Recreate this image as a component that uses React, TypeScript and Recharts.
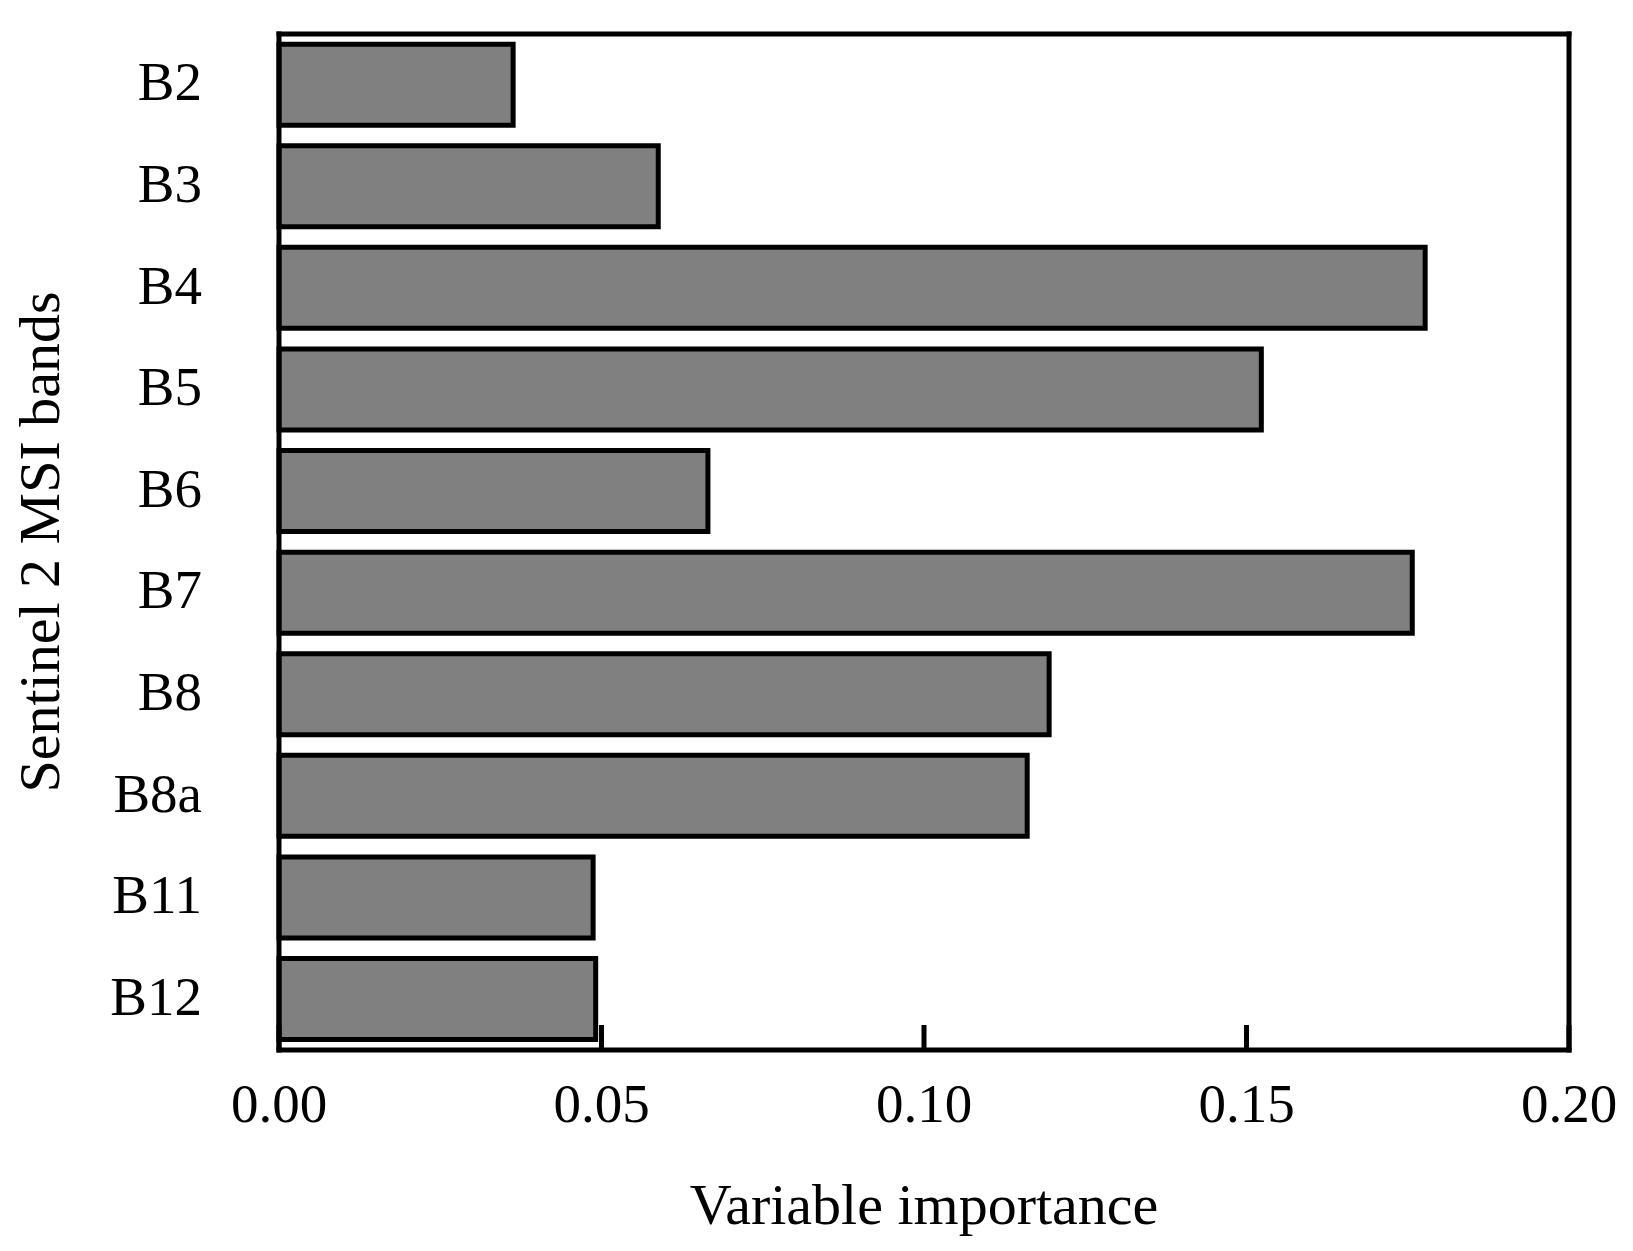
import { BarChart, Bar, XAxis, YAxis, CartesianGrid } from 'recharts';

const bands = ['B2', 'B3', 'B4', 'B5', 'B6', 'B7', 'B8', 'B8a', 'B11', 'B12'];
const importance = [0.0363, 0.0588, 0.1777, 0.1523, 0.0665, 0.1757, 0.1194, 0.116, 0.0487, 0.0491];
const xTicks = [0, 0.05, 0.1, 0.15, 0.2];

const data = bands.map((band, i) => ({ band, value: importance[i] }));

const FONT = '"Liberation Serif", "Times New Roman", serif';

function XTick(props: any) {
    const { x, y, payload } = props;
    return (
        <g>
            <line x1={x} x2={x} y1={y} y2={y - 25} stroke="#000" strokeWidth={5} />
            <text x={x} y={y + 72} textAnchor="middle" fontFamily={FONT} fontSize={55} fill="#000">
                {Number(payload.value).toFixed(2)}
            </text>
        </g>
    );
}

function YTitle({ viewBox }: any) {
    const x = viewBox.x + 51;
    const y = viewBox.y + viewBox.height / 2;
    return (
        <text x={x} y={y} transform={`rotate(-90, ${x}, ${y})`} textAnchor="middle"
            fontFamily={FONT} fontSize={58} fill="#000">
            Sentinel 2 MSI bands
        </text>
    );
}

function XTitle({ viewBox }: any) {
    return (
        <text x={viewBox.x + viewBox.width / 2} y={viewBox.y + 174} textAnchor="middle"
            fontFamily={FONT} fontSize={58} fill="#000">
            Variable importance
        </text>
    );
}

const frame = { stroke: '#000', strokeWidth: 5, strokeLinecap: 'square' as const };

export default function App() {
    return (
        <BarChart width={1617} height={1235} data={data} layout="vertical"
            margin={{ top: 26, right: 56, bottom: 0, left: 0 }} barCategoryGap="10%">
            {/* top and right edges of the box */}
            <CartesianGrid stroke="#000" strokeWidth={5} strokeLinecap="square"
                horizontalCoordinatesGenerator={({ offset }: any) => [offset.top]}
                verticalCoordinatesGenerator={({ offset }: any) => [offset.left + offset.width]} />
            <XAxis type="number" domain={[0, 0.2]} ticks={xTicks} height={193}
                axisLine={frame} tickLine={false} tickSize={0} tickMargin={0}
                tick={<XTick />} label={{ content: (p: any) => <XTitle {...p} /> }} />
            <YAxis type="category" dataKey="band" width={271} axisLine={frame}
                tickLine={false} tickSize={0} tickMargin={77}
                tick={{ fill: '#000', fontSize: 55, fontFamily: FONT, dy: -4 }}
                label={{ content: (p: any) => <YTitle {...p} /> }} />
            <Bar dataKey="value" fill="#808080" stroke="#000" strokeWidth={5} isAnimationActive={false} />
        </BarChart>
    );
}
